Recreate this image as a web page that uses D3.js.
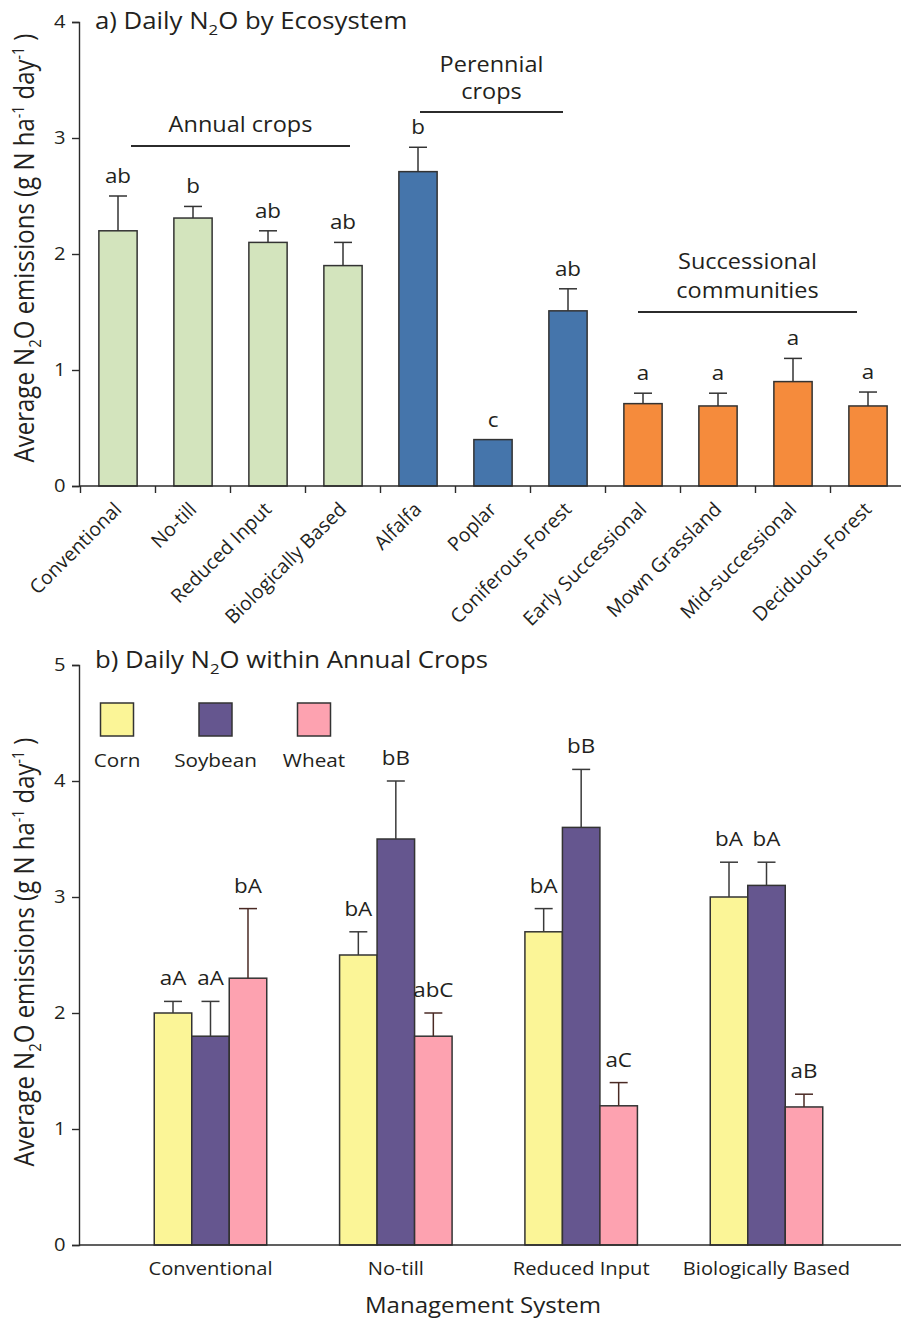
<!DOCTYPE html>
<html>
<head>
<meta charset="utf-8">
<script src="https://cdn.jsdelivr.net/npm/d3@7"></script>
<style>
  html, body { margin: 0; padding: 0; background: #fff; }
  svg text { font-family: "Open Sans", "Noto Sans", sans-serif; fill: #231f20; }
</style>
</head>
<body>
<svg id="chart" width="901" height="1321"></svg>
<script>
// ---- Panel a: daily N2O by ecosystem ----
const ecosystems = ["Conventional", "No-till", "Reduced Input", "Biologically Based",
  "Alfalfa", "Poplar", "Coniferous Forest", "Early Successional", "Mown Grassland",
  "Mid-successional", "Deciduous Forest"];
const ecoGroup = ["annual", "annual", "annual", "annual", "perennial", "perennial", "perennial",
  "successional", "successional", "successional", "successional"];
const ecoMean = [2.2, 2.31, 2.1, 1.9, 2.71, 0.4, 1.51, 0.71, 0.69, 0.9, 0.69];
const ecoErr  = [0.3, 0.1, 0.1, 0.2, 0.21, 0, 0.19, 0.09, 0.11, 0.2, 0.12];
const ecoLetters = ["ab", "b", "ab", "ab", "b", "c", "ab", "a", "a", "a", "a"];
const ecoTicks = [0, 1, 2, 3, 4];

// ---- Panel b: daily N2O within annual crops ----
const systems = ["Conventional", "No-till", "Reduced Input", "Biologically Based"];
const crops = ["Corn", "Soybean", "Wheat"];
const cornMean = [2.0, 2.5, 2.7, 3.0];
const cornErr  = [0.1, 0.2, 0.2, 0.3];
const soyMean  = [1.8, 3.5, 3.6, 3.1];
const soyErr   = [0.3, 0.5, 0.5, 0.2];
const wheatMean = [2.3, 1.8, 1.2, 1.19];
const wheatErr  = [0.6, 0.2, 0.2, 0.11];
const cornLetters  = ["aA", "bA", "bA", "bA"];
const soyLetters   = ["aA", "bB", "bB", "bA"];
const wheatLetters = ["bA", "abC", "aC", "aB"];
const cropTicks = [0, 1, 2, 3, 4, 5];

const groupColor = { annual: "#d3e4bd", perennial: "#4575ab", successional: "#f58b3c" };
const cropColor = { Corn: "#fbf597", Soybean: "#65568f", Wheat: "#fda2b0" };
const cropErrColor = { Corn: "#3a3a3a", Soybean: "#3a3a3a", Wheat: "#4a2a24" };

const svg = d3.select("#chart");
const ink = "#2b2b2b";
const SX = 1.12; // slightly wide lettering

// horizontal label, widened a little
function htext(g, x, y, str, size, anchor) {
  return g.append("text")
    .attr("transform", `translate(${x},${y}) scale(${SX},1)`)
    .attr("text-anchor", anchor || "start")
    .style("font-size", size + "px")
    .text(str);
}

// Y-axis title with sub/superscripts
function yTitle(g, cx, cy) {
  const t = g.append("text")
    .attr("transform", `translate(${cx},${cy}) scale(${SX},1) rotate(-90)`)
    .attr("text-anchor", "middle")
    .style("font-size", "24px");
  t.append("tspan").text("Average N");
  t.append("tspan").text("2").style("font-size", "15px").attr("dy", 6);
  t.append("tspan").text("O emissions (g N ha").attr("dy", -6);
  t.append("tspan").text("-1").style("font-size", "14px").attr("dy", -9);
  t.append("tspan").text(" day").attr("dy", 9);
  t.append("tspan").text("-1").style("font-size", "14px").attr("dy", -9);
  t.append("tspan").text(" )").attr("dy", 9);
}

function panelTitle(g, x, y, before, after) {
  const t = g.append("text")
    .attr("transform", `translate(${x},${y}) scale(${SX},1)`)
    .style("font-size", "23px");
  t.append("tspan").text(before);
  t.append("tspan").text("2").style("font-size", "15px").attr("dy", 6);
  t.append("tspan").text(after).attr("dy", -6);
}

function styleYAxis(sel) {
  sel.select(".domain").attr("stroke", ink).attr("stroke-width", 1.4);
  sel.selectAll(".tick line").attr("stroke", ink).attr("stroke-width", 1.4);
  sel.selectAll(".tick text")
    .attr("transform", `scale(${SX},1)`)
    .style("font-size", "18px").attr("fill", "#231f20")
    .style("font-family", '"Open Sans", "Noto Sans", sans-serif');
}

// ================= Panel a =================
{
  const g = svg.append("g");
  const y = d3.scaleLinear().domain([0, 4]).range([486, 22]);
  const x = d3.scaleBand().domain(ecosystems).range([80.5, 905.5]).paddingInner(0.49).paddingOuter(0.245);
  const step = x.step();

  // bars
  g.selectAll("rect.eco").data(ecosystems).join("rect")
    .attr("class", "eco")
    .attr("x", d => x(d))
    .attr("width", x.bandwidth())
    .attr("y", (d, i) => y(ecoMean[i]))
    .attr("height", (d, i) => y(0) - y(ecoMean[i]))
    .attr("fill", (d, i) => groupColor[ecoGroup[i]])
    .attr("stroke", "#333").attr("stroke-width", 1.5);

  // error bars (upper only)
  ecosystems.forEach((d, i) => {
    if (ecoErr[i] <= 0) return;
    const cx = x(d) + x.bandwidth() / 2;
    g.append("line").attr("x1", cx).attr("x2", cx)
      .attr("y1", y(ecoMean[i])).attr("y2", y(ecoMean[i] + ecoErr[i]))
      .attr("stroke", "#333").attr("stroke-width", 1.5);
    g.append("line").attr("x1", cx - 9).attr("x2", cx + 9)
      .attr("y1", y(ecoMean[i] + ecoErr[i])).attr("y2", y(ecoMean[i] + ecoErr[i]))
      .attr("stroke", "#333").attr("stroke-width", 1.5);
  });

  // significance letters
  g.selectAll("text.letter").data(ecosystems).join("text")
    .attr("class", "letter")
    .attr("transform", (d, i) =>
      `translate(${x(d) + x.bandwidth() / 2},${y(ecoMean[i] + ecoErr[i]) - 13}) scale(${SX},1)`)
    .attr("text-anchor", "middle")
    .style("font-size", "20px")
    .text((d, i) => ecoLetters[i]);

  // y axis
  const ya = g.append("g").attr("transform", "translate(79,0)")
    .call(d3.axisLeft(y).tickValues(ecoTicks).tickFormat(d3.format("d")).tickSize(7).tickPadding(5));
  styleYAxis(ya);

  // x axis with category ticks at band boundaries
  g.append("line").attr("x1", 79).attr("x2", 901).attr("y1", y(0)).attr("y2", y(0))
    .attr("stroke", ink).attr("stroke-width", 1.4);
  ecosystems.forEach((d, i) => {
    const bx = x(d) - (step - x.bandwidth()) / 2;
    g.append("line").attr("x1", bx).attr("x2", bx).attr("y1", y(0)).attr("y2", y(0) + 7)
      .attr("stroke", ink).attr("stroke-width", 1.4);
  });
  g.selectAll("text.xlab").data(ecosystems).join("text")
    .attr("class", "xlab")
    .attr("transform", d => `translate(${x(d) + x.bandwidth() / 2 - 5},${y(0) + 15}) rotate(-45)`)
    .attr("text-anchor", "end")
    .attr("dy", "0.7em")
    .style("font-size", "19.5px")
    .text(d => d);

  // group brackets
  const brackets = [
    { lines: ["Annual crops"], x1: 131, x2: 350, ly: 146, ty: [132] },
    { lines: ["Perennial", "crops"], x1: 420, x2: 563, ly: 112, ty: [72, 99] },
    { lines: ["Successional", "communities"], x1: 638, x2: 857, ly: 312, ty: [269, 298] }
  ];
  brackets.forEach(b => {
    g.append("line").attr("x1", b.x1).attr("x2", b.x2).attr("y1", b.ly).attr("y2", b.ly)
      .attr("stroke", ink).attr("stroke-width", 1.8);
    b.lines.forEach((s, k) => htext(g, (b.x1 + b.x2) / 2, b.ty[k], s, 21, "middle"));
  });

  panelTitle(g, 95, 29, "a) Daily N", "O by Ecosystem");
  yTitle(g, 34, 248);
}

// ================= Panel b =================
{
  const g = svg.append("g");
  const y = d3.scaleLinear().domain([0, 5]).range([1245, 665]);
  const x0 = d3.scaleBand().domain(systems).range([79, 898]).paddingInner(0.393).paddingOuter(0.406);
  const x1 = d3.scaleBand().domain(crops).range([0, x0.bandwidth()]);

  const means = { Corn: cornMean, Soybean: soyMean, Wheat: wheatMean };
  const errs = { Corn: cornErr, Soybean: soyErr, Wheat: wheatErr };
  const letters = { Corn: cornLetters, Soybean: soyLetters, Wheat: wheatLetters };

  const rows = [];
  systems.forEach((s, i) => crops.forEach(c => rows.push({ s, c, v: means[c][i], e: errs[c][i], l: letters[c][i] })));

  g.selectAll("rect.crop").data(rows).join("rect")
    .attr("class", "crop")
    .attr("x", d => x0(d.s) + x1(d.c))
    .attr("width", x1.bandwidth())
    .attr("y", d => y(d.v))
    .attr("height", d => y(0) - y(d.v))
    .attr("fill", d => cropColor[d.c])
    .attr("stroke", "#333").attr("stroke-width", 1.5);

  rows.forEach(d => {
    const cx = x0(d.s) + x1(d.c) + x1.bandwidth() / 2;
    const col = cropErrColor[d.c];
    g.append("line").attr("x1", cx).attr("x2", cx)
      .attr("y1", y(d.v)).attr("y2", y(d.v + d.e))
      .attr("stroke", col).attr("stroke-width", 1.5);
    g.append("line").attr("x1", cx - 9).attr("x2", cx + 9)
      .attr("y1", y(d.v + d.e)).attr("y2", y(d.v + d.e))
      .attr("stroke", col).attr("stroke-width", 1.5);
  });

  g.selectAll("text.letter").data(rows).join("text")
    .attr("class", "letter")
    .attr("transform", d =>
      `translate(${x0(d.s) + x1(d.c) + x1.bandwidth() / 2},${y(d.v + d.e) - 16}) scale(${SX},1)`)
    .attr("text-anchor", "middle")
    .style("font-size", "20px")
    .text(d => d.l);

  const ya = g.append("g").attr("transform", "translate(79,0)")
    .call(d3.axisLeft(y).tickValues(cropTicks).tickFormat(d3.format("d")).tickSize(7).tickPadding(5));
  styleYAxis(ya);

  g.append("line").attr("x1", 79).attr("x2", 901).attr("y1", y(0)).attr("y2", y(0))
    .attr("stroke", ink).attr("stroke-width", 1.4);

  systems.forEach(s => htext(g, x0(s) + x0.bandwidth() / 2, 1275, s, 18, "middle"));

  htext(g, 483, 1313, "Management System", 21.5, "middle");

  // legend: swatches with names beneath
  const legX = d3.scalePoint().domain(crops).range([117, 314]);
  crops.forEach(c => {
    g.append("rect").attr("x", legX(c) - 16.5).attr("y", 703).attr("width", 33).attr("height", 33)
      .attr("fill", cropColor[c]).attr("stroke", "#333").attr("stroke-width", 1.5);
    htext(g, legX(c), 767, c, 18.5, "middle");
  });

  panelTitle(g, 95, 668, "b) Daily N", "O within Annual Crops");
  yTitle(g, 34, 952);
}
</script>
</body>
</html>
